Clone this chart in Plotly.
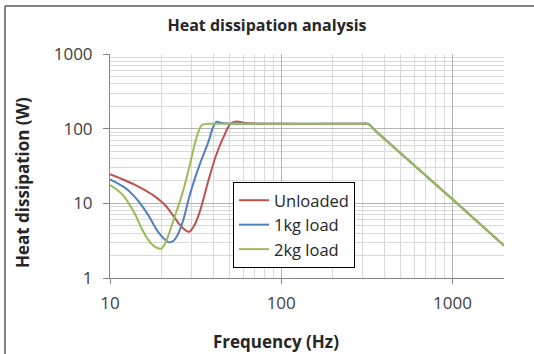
import plotly.graph_objects as go
import math

# ---- data ----
freq_unloaded = [10, 12.2, 14, 16, 18, 20, 21.4, 23, 25.6, 27.5, 29, 31, 33.6, 37.6, 42, 47, 50.4, 54.5, 60, 70, 100, 200, 290, 321, 360, 500, 1000, 2000]
heat_unloaded = [24.6, 20.4, 17.7, 15.0, 12.7, 10.5, 9.0, 7.2, 5.15, 4.4, 4.15, 5.0, 8.0, 20.4, 46.5, 86, 115, 125, 120, 117, 116, 116, 116, 116, 91, 46.5, 11.3, 2.72]

freq_1kg = [10, 12.2, 13.7, 15, 16.7, 19.1, 21, 22.2, 23.5, 25, 26.8, 29.4, 33.6, 37.6, 40, 42, 45, 50, 60, 100, 200, 290, 321, 360, 500, 1000, 2000]
heat_1kg = [20.9, 16.2, 12.8, 10.0, 7.0, 4.15, 3.25, 3.0, 3.15, 3.9, 6.0, 13.6, 34.3, 67, 105, 124, 119, 117, 116, 116, 116, 116, 116, 91, 46.5, 11.3, 2.72]

freq_2kg = [10, 11, 12.2, 13, 14, 15.3, 16.5, 17.5, 19, 20, 21, 23.5, 26.8, 29.4, 32.1, 34.4, 37, 45, 100, 200, 290, 321, 360, 500, 1000, 2000]
heat_2kg = [17.6, 15.2, 12.0, 9.6, 7.2, 4.6, 3.4, 2.85, 2.5, 2.48, 2.9, 5.96, 15.0, 34.3, 78, 112, 116, 116, 116, 116, 116, 116, 91, 46.5, 11.3, 2.72]

series_names = ["Unloaded", "1kg load", "2kg load"]
series_colors = ["#C0504D", "#4F81BD", "#9BBB59"]

x_major = [10, 100, 1000]
x_minor = [20, 30, 40, 50, 60, 70, 80, 90, 200, 300, 400, 500, 600, 700, 800, 900, 2000]
y_major = [1, 10, 100, 1000]
y_minor = [2, 3, 4, 5, 6, 7, 8, 9, 20, 30, 40, 50, 60, 70, 80, 90, 200, 300, 400, 500, 600, 700, 800, 900]

FONT = "Open Sans"
fig = go.Figure()
for fx, hy, name, col in zip([freq_unloaded, freq_1kg, freq_2kg],
                             [heat_unloaded, heat_1kg, heat_2kg],
                             series_names, series_colors):
    fig.add_trace(go.Scatter(x=fx, y=hy, name=name, mode="lines",
                             line=dict(color=col, width=2, shape="spline", smoothing=0.9)))

L, R, T, B = 110, 30, 54, 76
W, H = 534, 354
pw, ph = W - L - R, H - T - B

def px(X):
    return (X - L) / pw

def py(Y):
    return (H - B - Y) / ph

fig.update_layout(
    template="none",
    width=W, height=H,
    margin=dict(l=L, r=R, t=T, b=B),
    paper_bgcolor="white", plot_bgcolor="white",
    font=dict(family=FONT, color="#404040"),
    title=dict(text="<b>Heat dissipation analysis</b>", x=0.5, xref="container",
               y=1 - 25 / H, yref="container", xanchor="center", yanchor="middle",
               font=dict(size=16, color="#262626", family=FONT)),
    showlegend=True,
    legend=dict(x=px(233), y=py(182), xanchor="left", yanchor="top",
                bgcolor="white", bordercolor="#000000", borderwidth=1,
                font=dict(size=16.5, color="#262626", family=FONT),
                itemwidth=30, tracegroupgap=0),
    xaxis=dict(type="log", range=[1, math.log10(2000)],
               tickmode="array", tickvals=x_major, ticktext=[str(v) for v in x_major],
               tickfont=dict(size=17, color="#404040"),
               ticks="outside", ticklen=5, tickcolor="#868686",
               showgrid=True, gridcolor="#B3B3B3", gridwidth=1,
               minor=dict(tickmode="array", tickvals=x_minor, showgrid=True,
                          gridcolor="#D9D9D9", gridwidth=1, ticks=""),
               showline=True, linecolor="#868686", linewidth=1,
               zeroline=False, ticklabelstandoff=5),
    yaxis=dict(type="log", range=[0, 3],
               tickmode="array", tickvals=y_major, ticktext=[str(v) for v in y_major],
               tickfont=dict(size=17, color="#404040"),
               ticks="outside", ticklen=6, tickcolor="#868686",
               showgrid=True, gridcolor="#B3B3B3", gridwidth=1,
               minor=dict(tickmode="array", tickvals=y_minor, showgrid=True,
                          gridcolor="#D9D9D9", gridwidth=1, ticks=""),
               showline=True, linecolor="#868686", linewidth=1,
               zeroline=False, ticklabelstandoff=7),
    annotations=[
        dict(text="<b>Frequency (Hz)</b>", x=px(276), y=py(341), xref="paper", yref="paper",
             showarrow=False, xanchor="center", yanchor="middle",
             font=dict(size=17, color="#262626", family=FONT)),
        dict(text="<b>Heat dissipation (W)</b>", x=px(22), y=py(183), xref="paper", yref="paper",
             showarrow=False, xanchor="center", yanchor="middle", textangle=-90,
             font=dict(size=17, color="#262626", family=FONT)),
    ],
    shapes=[
        dict(type="line", xref="paper", yref="paper", x0=px(5), y0=py(6), x1=px(534), y1=py(6),
             line=dict(color="#595959", width=1.5)),
        dict(type="line", xref="paper", yref="paper", x0=px(5), y0=py(6), x1=px(5), y1=py(354),
             line=dict(color="#595959", width=1.5)),
    ],
)

fig.write_html("out.html", config={"displayModeBar": False},
               post_script="document.body.style.margin='0px';")
